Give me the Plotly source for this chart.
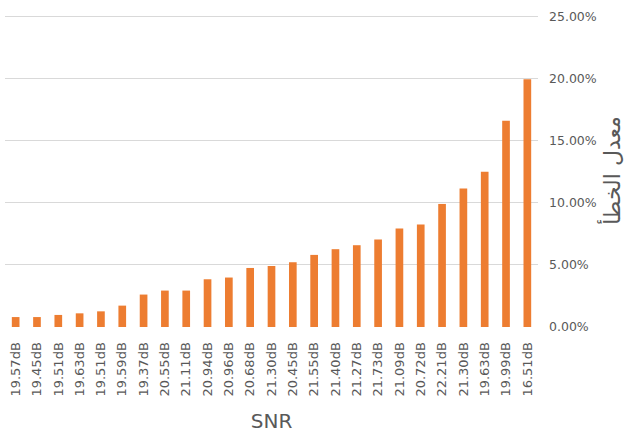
import plotly.graph_objects as go

snr_labels = ["19.57dB", "19.45dB", "19.51dB", "19.63dB", "19.51dB", "19.59dB", "19.37dB",
              "20.55dB", "21.11dB", "20.94dB", "20.96dB", "20.68dB", "21.30dB", "20.45dB",
              "21.55dB", "21.40dB", "21.27dB", "21.73dB", "21.09dB", "20.72dB", "22.21dB",
              "21.30dB", "19.63dB", "19.99dB", "16.51dB"]
error_rate = [0.0080, 0.0080, 0.0097, 0.0110, 0.0126, 0.0172, 0.0261, 0.0293, 0.0293,
              0.0384, 0.0398, 0.0475, 0.0491, 0.0521, 0.0580, 0.0626, 0.0658, 0.0704,
              0.0792, 0.0824, 0.0990, 0.1114, 0.1248, 0.1659, 0.1994]
y_ticks = [0, 0.05, 0.10, 0.15, 0.20, 0.25]

positions = list(range(len(snr_labels)))

fig = go.Figure(go.Bar(
    x=positions, y=error_rate,
    marker=dict(color="#ED7D31", line=dict(width=0)),
))

font_family = "DejaVu Sans, Noto Sans, sans-serif"

fig.update_layout(
    width=628, height=442,
    margin=dict(l=5, r=90, t=14, b=115),
    plot_bgcolor="white", paper_bgcolor="white",
    bargap=0.64,
    showlegend=False,
    font=dict(family=font_family, color="#595959"),
    xaxis=dict(
        tickmode="array", tickvals=positions, ticktext=snr_labels,
        tickangle=-90, tickfont=dict(size=13, color="#595959"),
        range=[-0.5, len(snr_labels) - 0.5],
        showgrid=False, zeroline=False, showline=False,
        ticks="outside", ticklen=9, tickcolor="rgba(0,0,0,0)",
        automargin=False,
        title=dict(text="SNR", font=dict(size=20, color="#595959"), standoff=18),
    ),
    yaxis=dict(
        side="right", range=[0, 0.2518], tickvals=y_ticks,
        tickformat=".2%", tickfont=dict(size=12.5, color="#595959"),
        showgrid=True, gridcolor="#D9D9D9", gridwidth=1,
        zeroline=False, showline=False, ticklabelstandoff=10,
        automargin=False,
        title=dict(text="معدل الخطأ", font=dict(size=22, color="#595959"), standoff=6),
    ),
)

fig.write_html("out.html", config={"displayModeBar": False},
               post_script="document.body.style.margin='0';")
